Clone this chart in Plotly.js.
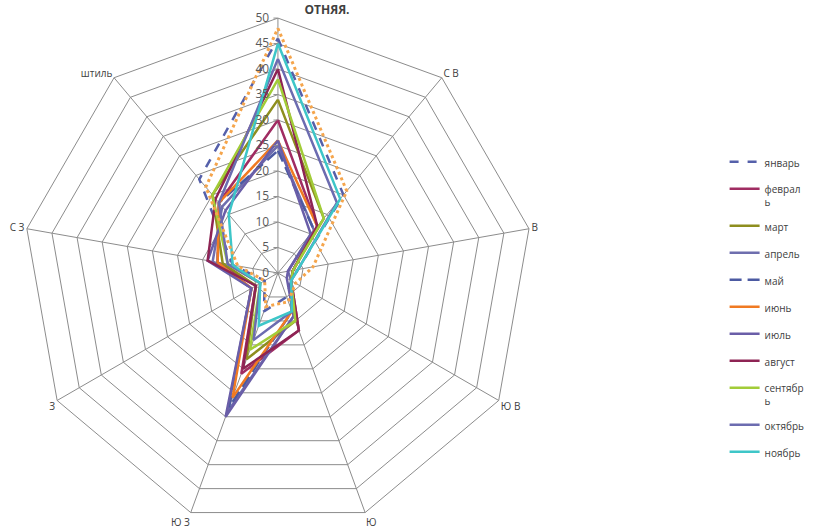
<!DOCTYPE html>
<html>
<head>
<meta charset="utf-8">
<script src="https://cdn.plot.ly/plotly-3.0.1.min.js"></script>
<style>html,body{margin:0;padding:0;background:#fff;}#chart{width:830px;height:531px;}</style>
</head>
<body>
<div id="chart"></div>
<script>
// categories (wind directions, clockwise from north)
const categories = ["С", "СВ", "В", "ЮВ", "Ю", "ЮЗ", "З", "СЗ", "штиль"];
const categoryLabels = ["", "С В", "В", "Ю В", "Ю", "Ю З", "З", "С З", "штиль"];
const radialTicks = [0, 5, 10, 15, 20, 25, 30, 35, 40, 45, 50];

// monthly values (%)
const january   = [46, 20, 4, 3, 5, 8, 3, 9, 24];
const february  = [30, 12, 3, 3, 12, 21, 5, 12, 18];
const march     = [34, 14, 3, 3, 10, 18, 5, 11, 20];
const april     = [25, 11, 2, 3, 9, 29, 6, 13, 17];
const may       = [24, 11, 3, 3, 8, 28, 6, 12, 18];
const june      = [26, 12, 3, 3, 8, 26, 6, 12, 18];
const july      = [26, 10, 2, 2, 9, 30, 6, 14, 16];
const august    = [40, 12, 3, 3, 12, 20, 5, 14, 19];
const september = [38, 14, 3, 3, 10, 16, 4, 10, 20];
const october   = [42, 18, 4, 3, 8, 14, 4, 10, 18];
const november  = [45, 19, 4, 3, 8, 11, 4, 9, 15];
const december  = [48, 21, 7, 4, 6, 7, 3, 8, 22];

const seriesNames = ["январь", "феврал<br>ь", "март", "апрель", "май", "июнь", "июль", "август", "сентябр<br>ь", "октябрь", "ноябрь", "декабрь"];
const seriesValues = [january, february, march, april, may, june, july, august, september, october, november, december];

const styles = [
  {color: "#5560AA", dash: "dash", width: 2.5},
  {color: "#A02C62", dash: "solid", width: 2.5},
  {color: "#8E8E1E", dash: "solid", width: 2.5},
  {color: "#6E6EAE", dash: "solid", width: 2.5},
  {color: "#4C5AA2", dash: "12px,6px", width: 2.5},
  {color: "#F07A22", dash: "solid", width: 2.5},
  {color: "#6A5EA8", dash: "solid", width: 2.5},
  {color: "#8E2454", dash: "solid", width: 2.5},
  {color: "#A2CC38", dash: "solid", width: 2.5},
  {color: "#6C6CB0", dash: "solid", width: 2.5},
  {color: "#3EC6C8", dash: "solid", width: 2.5},
  {color: "#F5A54C", dash: "dot", width: 3}
];

const traces = seriesValues.map((vals, i) => ({
  type: "scatterpolar",
  mode: "lines",
  r: vals.concat([vals[0]]),
  theta: categories.concat([categories[0]]),
  name: seriesNames[i],
  legendgroup: "g" + i,
  showlegend: i < 11,
  line: {color: styles[i].color, dash: styles[i].dash, width: styles[i].width},
  hoverinfo: "name+r+theta"
}));

const layout = {
  width: 830,
  height: 531,
  margin: {l: 0, r: 0, t: 0, b: 0},
  paper_bgcolor: "#ffffff",
  plot_bgcolor: "#ffffff",
  font: {family: "Open Sans, Arial, sans-serif", color: "#404040"},
  title: {
    text: "ОТНЯЯ.",
    font: {size: 12, color: "#404040", family: "Open Sans, Arial, sans-serif", weight: "bold"},
    x: 0.394, xanchor: "center",
    y: 0.99, yref: "container", yanchor: "top",
    pad: {t: 0, b: 0}
  },
  polar: {
    domain: {x: [0.0277, 0.642], y: [0.0057, 0.966]},
    gridshape: "linear",
    bgcolor: "#ffffff",
    radialaxis: {
      range: [0, 50],
      tickvals: radialTicks,
      angle: 90,
      side: "counterclockwise",
      showline: false,
      ticks: "outside",
      ticklen: 4,
      tickcolor: "#8c8c8c",
      gridcolor: "#8c8c8c",
      gridwidth: 1,
      tickfont: {size: 12, color: "#595959"},
      tickangle: 90
    },
    angularaxis: {
      direction: "clockwise",
      rotation: 90,
      type: "category",
      categoryarray: categories,
      tickmode: "array",
      tickvals: categories,
      ticktext: categoryLabels,
      showline: true,
      linecolor: "#8c8c8c",
      linewidth: 1,
      gridcolor: "#8c8c8c",
      gridwidth: 1,
      ticks: "",
      tickfont: {size: 10, color: "#404040"}
    }
  },
  showlegend: true,
  legend: {
    x: 0.873, xanchor: "left",
    y: 0.72, yanchor: "top",
    traceorder: "grouped",
    tracegroupgap: 8,
    valign: "top",
    font: {size: 10, color: "#404040"},
    bgcolor: "rgba(0,0,0,0)"
  }
};

Plotly.newPlot("chart", traces, layout, {displayModeBar: false, staticPlot: true});
</script>
</body>
</html>
